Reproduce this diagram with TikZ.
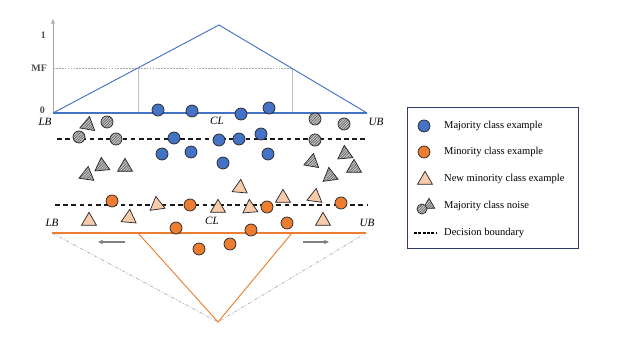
\documentclass[tikz,border=0pt]{standalone}
\usepackage{fontspec}
\setmainfont{Liberation Serif}
\usetikzlibrary{shapes.geometric,patterns.meta,arrows.meta}
\definecolor{majblue}{HTML}{4472C4}
\definecolor{minor}{HTML}{ED7D31}
\definecolor{peach}{HTML}{F8CBAD}
\definecolor{legbox}{HTML}{2F3F6B}
\definecolor{noisefill}{HTML}{C8C8C8}
\definecolor{axisgray}{HTML}{A6A6A6}
\tikzset{
 dot/.style={circle,draw=black!85,line width=0.6pt,minimum size=0.36cm,inner sep=0pt},
 maj/.style={dot,fill=majblue},
 mino/.style={dot,fill=minor},
 hatch/.style={preaction={fill=noisefill},pattern={Lines[angle=45,distance=1.6pt,line width=0.5pt]},pattern color=black!65},
 noise/.style={dot,hatch},
 tri/.style={regular polygon,regular polygon sides=3,draw=black!85,line width=0.6pt,minimum size=0.52cm,inner sep=0pt},
 newmin/.style={tri,fill=peach},
 noisetri/.style={tri,hatch},
 boundary/.style={dash pattern=on 4pt off 3pt,line width=1pt,black!90},
 lbl/.style={font=\fontsize{9.5}{10}\selectfont\itshape},
 tick/.style={font=\fontsize{8.5}{9}\selectfont\bfseries,text=black!70},
 leg/.style={font=\fontsize{9}{10}\selectfont,anchor=west},
}
\begin{document}
\begin{tikzpicture}[x=0.03cm,y=-0.03cm]
\useasboundingbox (0,0) rectangle (625,343);
% ---------- upper membership function
\coordinate (o) at (53,113);
\coordinate (ytop) at (53,19);
\draw[axisgray,line width=0.6pt,-{Triangle[length=4pt,width=3pt]}] (o) -- (ytop);
\node[tick,anchor=east] (t1) at (50,35) {1};
\node[tick,anchor=east] (tmf) at (51,68) {MF};
\node[tick,anchor=east] (t0) at (49,110) {0};
\coordinate (mfl) at (138,68);
\coordinate (mfr) at (292,68);
\coordinate (mfl0) at (138,113);
\coordinate (mfr0) at (292,113);
\draw[axisgray,line width=0.4pt,dash pattern=on 1.5pt off 1pt] (53,68) -- (mfr);
\draw[axisgray!70,line width=0.8pt] (mfl) -- (mfl0) (mfr) -- (mfr0);
\coordinate (ub) at (367,113);
\coordinate (pk) at (219,25);
\draw[majblue,line width=0.8pt] (o) -- (pk) -- (ub);
\draw[majblue,line width=1.1pt] (o) -- (ub);
\node[lbl] (lb1) at (45,122) {LB};
\node[lbl] (cl1) at (217,121) {CL};
\node[lbl] (ub1) at (376,122) {UB};
% ---------- lower membership function
\coordinate (lb2) at (52,233);
\coordinate (ub2) at (366,233);
\coordinate (vl) at (138,233);
\coordinate (vr) at (292,233);
\coordinate (vb) at (218,322);
\draw[axisgray,line width=0.5pt,dash pattern=on 3pt off 1.5pt on 0.8pt off 1.5pt] (lb2) -- (vb) -- (ub2);
\draw[minor,line width=0.8pt] (vl) -- (vb) -- (vr);
\draw[minor,line width=0.9pt] (lb2) -- (ub2);
\node[lbl] (lb3) at (52,223) {LB};
\node[lbl] (cl3) at (212,221) {CL};
\node[lbl] (ub3) at (367,223) {UB};
\coordinate (al1) at (125,242);
\coordinate (al2) at (98,242);
\coordinate (ar1) at (303,242);
\coordinate (ar2) at (329,242);
\draw[gray,line width=1pt,-{Stealth[length=4.5pt,width=4pt]}] (al1) -- (al2);
\draw[gray,line width=1pt,-{Stealth[length=4.5pt,width=4pt]}] (ar1) -- (ar2);
% ---------- decision boundaries
\coordinate (d1a) at (57,139);
\coordinate (d1b) at (367,139);
\coordinate (d2a) at (55,205);
\coordinate (d2b) at (367,205);
\draw[boundary] (d1a) -- (d1b);
\draw[boundary] (d2a) -- (d2b);
% ---------- majority examples
\foreach \x/\y [count=\i] in {158/110,192/111,241/114,269/108,174/138,219/140,239/139,261/134,162/154,191/152,268/154,223/163}
  \node[maj] (maj\i) at (\x,\y) {};
% ---------- noise
\foreach \x/\y [count=\i] in {107/122,79/137,116/139,315/119,344/124,315/140}
  \node[noise] (nz\i) at (\x,\y) {};
\foreach \x/\y/\r [count=\i] in {88/125/-10,102/166/5,125/167/0,87/175/-8,312/162/-10,345/154/5,354/168/0,330/176/8}
  \node[noisetri,rotate=\r] (nt\i) at (\x,\y) {};
% ---------- new minority examples
\foreach \x/\y/\r [count=\i] in {89/221/0,129/218/-5,157/205/8,218/208/0,250/208/5,240/188/-5,283/198/0,315/197/-8,323/221/0}
  \node[newmin,rotate=\r] (nm\i) at (\x,\y) {};
% ---------- minority examples
\foreach \x/\y [count=\i] in {112/201,190/205,267/207,341/203,176/228,251/230,287/223,199/249,230/244}
  \node[mino] (mn\i) at (\x,\y) {};
% ---------- legend
\node[draw=legbox,line width=0.8pt,minimum width=171*0.03cm,minimum height=141*0.03cm,inner sep=0pt] (legend) at (492.5,177.5) {};
\node[maj] (lgmaj) at (424,126) {};
\node[leg] (lt1) at (440,126) {Majority class example};
\node[mino] (lgmin) at (424,152) {};
\node[leg] (lt2) at (440,152) {Minority class example};
\node[newmin] (lgnew) at (425,180) {};
\node[leg] (lt3) at (440,179) {New minority class example};
\node[noisetri,minimum size=0.4cm] (lgnt) at (429,205) {};
\node[noise,minimum size=0.3cm] (lgnc) at (422,209) {};
\node[leg] (lt4) at (440,206) {Majority class noise};
\coordinate (lda) at (414,233);
\coordinate (ldb) at (436,233);
\draw[line width=1pt,dash pattern=on 2.5pt off 1.2pt] (lda) -- (ldb);
\node[leg] (lt5) at (440,233) {Decision boundary};
\end{tikzpicture}
\end{document}
